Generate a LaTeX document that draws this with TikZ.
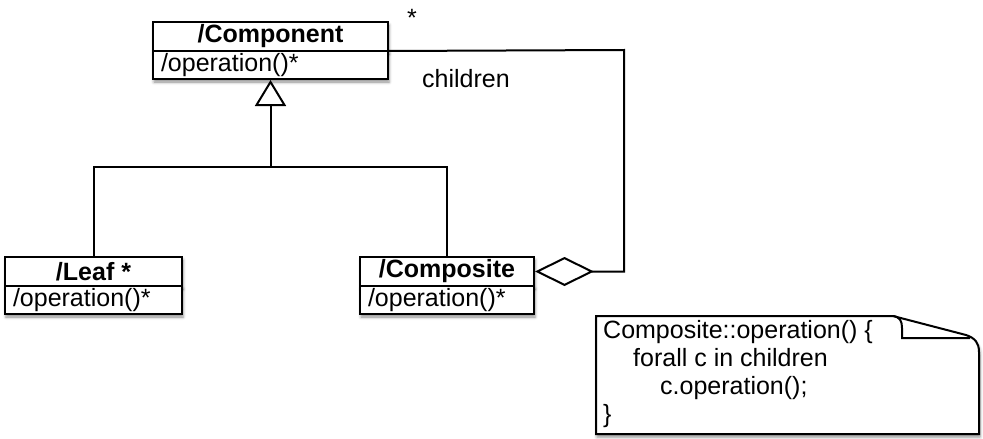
\documentclass[tikz,border=0pt]{standalone}
\usepackage{fontspec}
\setmainfont{Liberation Sans}
\usetikzlibrary{positioning,arrows.meta,shadows.blur}

\tikzset{
  every node/.style={font=\fontsize{25}{28}\selectfont},
  sombra/.style={blur shadow={shadow xshift=1pt,shadow yshift=-3pt,shadow blur radius=3pt,shadow opacity=45}},
  clase/.style={draw,line width=2pt,fill=white,sombra,minimum height=29pt,inner sep=0pt,outer sep=0pt,
    anchor=north west,font=\fontsize{25}{28}\selectfont\bfseries},
  metodo/.style={draw,line width=2pt,fill=white,sombra,minimum height=28pt,inner xsep=8pt,inner ysep=0pt,
    outer sep=0pt,align=left},
  linea/.style={line width=2pt}
}

\begin{document}
\begin{tikzpicture}[x=1pt,y=-1pt]
  \useasboundingbox (0,0) rectangle (983,439);

  % Clase Component
  \node[clase,minimum width=235pt] (comp) at (153,22) {/Component};
  \node[metodo,text width=219pt,below=0pt of comp] (compop) {/operation()*};

  % Clase Leaf
  \node[clase,minimum width=177pt] (leaf) at (5,257) {/Leaf *};
  \node[metodo,text width=161pt,below=0pt of leaf] (leafop) {/operation()*};

  % Clase Composite
  \node[clase,minimum width=174pt] (cmpt) at (360,257) {/Composite};
  \node[metodo,text width=158pt,below=0pt of cmpt] (cmptop) {/operation()*};

  % Herencia
  \coordinate (union) at (compop.south |- 0,167);
  \draw[linea] (leaf.north) |- (union) -| (cmpt.north);
  \draw[linea,-{Triangle[open,length=26pt,width=31pt,line width=2pt]}] (union) -- ([yshift=-1pt]compop.south);

  % Agregacion
  \coordinate (esquina) at (624,50);
  \draw[linea,{Diamond[open,length=59pt,width=29pt,line width=2pt]}-] ([xshift=1pt]cmpt.east) -| (esquina) -- (comp.south east);
  \node (mult) at (412,18) {*};
  \node (rol) at (466,79) {children};

  % Nota
  \draw[linea,fill=white,sombra] (596,316) -- (893,316) -- (966,335)
    .. controls (975,338) and (979,343) .. (979,352) -- (979,434) -- (596,434) -- cycle;
  \draw[linea] (893,316) .. controls (900,317) and (902,321) .. (902,328) -- (902,338) -- (970,338);
  \node[anchor=north west,align=left,inner sep=0pt] (nota) at (603,320)
    {Composite::operation() \{\\
     \hspace*{30pt}forall c in children\\
     \hspace*{57pt}c.operation();\\
     \}};
\end{tikzpicture}
\end{document}
